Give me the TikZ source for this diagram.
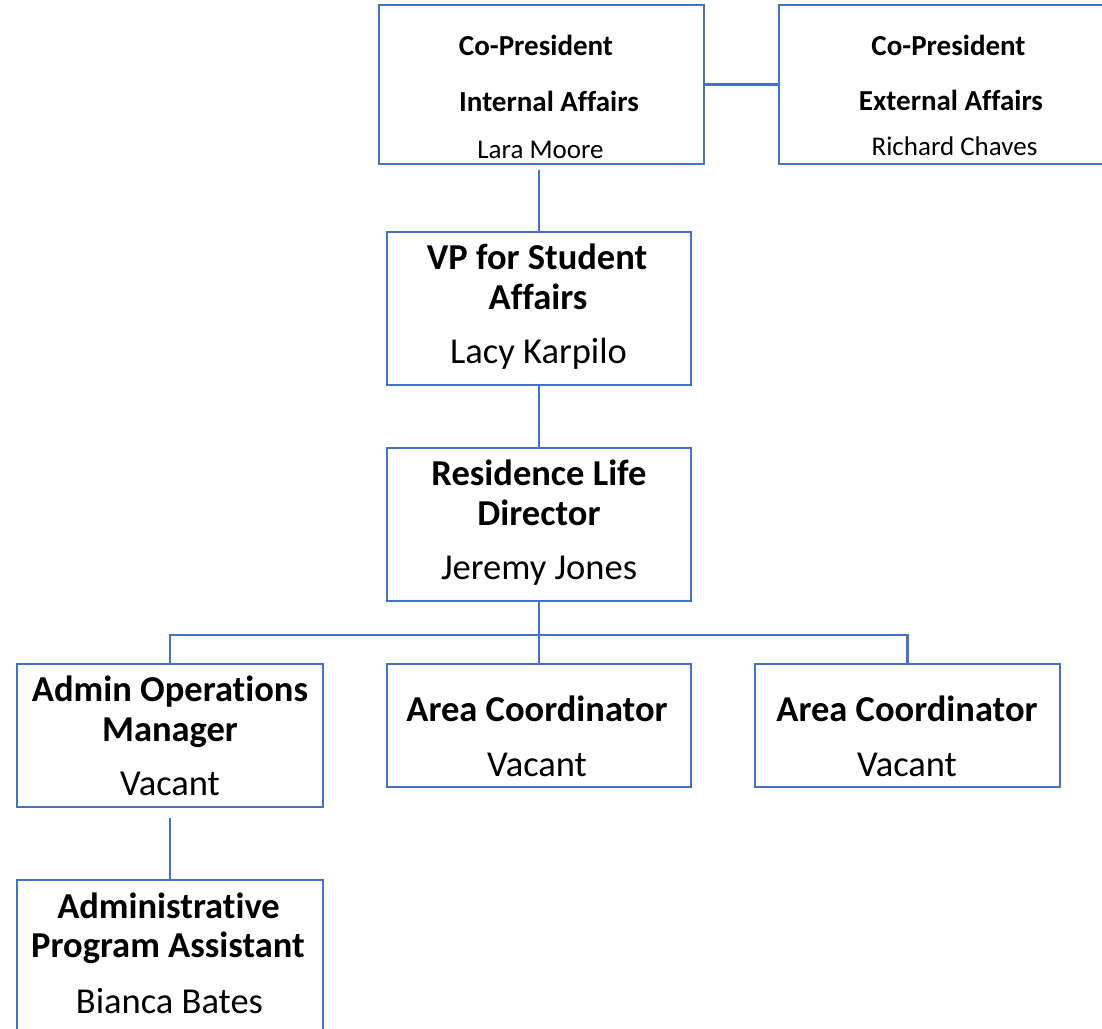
\documentclass[tikz,border=0pt]{standalone}
\usepackage{fontspec}
\setmainfont{Carlito}[Ligatures={NoCommon}]
\definecolor{boxblue}{HTML}{4472C4}
\begin{document}
\begin{tikzpicture}[x=1pt,y=-1pt,
  orgbox/.style={draw=boxblue,line width=2.8pt,rectangle,inner sep=0pt},
  conn/.style={draw=boxblue,line width=2.8pt},
  bigt/.style={anchor=base,inner sep=0pt,font=\fontsize{36.5}{40}\selectfont\bfseries},
  bign/.style={anchor=base,inner sep=0pt,font=\fontsize{36.5}{40}\selectfont},
  smt/.style={anchor=base,inner sep=0pt,font=\fontsize{29}{33}\selectfont\bfseries},
  smn/.style={anchor=base,inner sep=0pt,font=\fontsize{27}{32}\selectfont}]
\useasboundingbox (0,0) rectangle (1102,1028);
% boxes
\node[orgbox,minimum width=325pt,minimum height=159pt] (b1) at (541.5,84.5) {};
\node[orgbox,minimum width=325pt,minimum height=159pt] (b2) at (941.5,84.5) {};
\node[orgbox,minimum width=304pt,minimum height=153pt] (vp) at (539,308.5) {};
\node[orgbox,minimum width=304pt,minimum height=153pt] (rd) at (539,524.5) {};
\node[orgbox,minimum width=306pt,minimum height=143pt] (ad) at (170,735.5) {};
\node[orgbox,minimum width=304pt,minimum height=123pt] (a1) at (539,725.5) {};
\node[orgbox,minimum width=305pt,minimum height=123pt] (a2) at (907.5,725.5) {};
\node[orgbox,minimum width=306pt,minimum height=160pt] (as) at (170,960) {};
% texts
\node[smt] (t1a) at (536,55) {Co-President};
\node[smt] (t1b) at (549,111) {Internal Affairs};
\node[smn] (t1c) at (540.5,158) {Lara Moore};
\node[smt] (t2a) at (948.5,55) {Co-President};
\node[smt] (t2b) at (951,110) {External Affairs};
\node[smn] (t2c) at (954.5,155) {Richard Chaves};
\node[bigt] (t3a) at (537,269) {VP for Student};
\node[bigt] (t3b) at (538,309) {Affairs};
\node[bign] (t3c) at (538.5,363) {Lacy Karpilo};
\node[bigt] (t4a) at (539,485) {Residence Life};
\node[bigt] (t4b) at (539,525) {Director};
\node[bign] (t4c) at (539,579) {Jeremy Jones};
\node[bigt] (t5a) at (170,701) {Admin Operations};
\node[bigt] (t5b) at (170,741) {Manager};
\node[bign] (t5c) at (170,795) {Vacant};
\node[bigt] (t6a) at (537,721) {Area Coordinator};
\node[bign] (t6b) at (537,776) {Vacant};
\node[bigt] (t7a) at (907,721) {Area Coordinator};
\node[bign] (t7b) at (907,776) {Vacant};
\node[bigt] (t8a) at (168.5,918) {Administrative};
\node[bigt] (t8b) at (168,957) {Program Assistant};
\node[bign] (t8c) at (169.5,1013) {Bianca Bates};
% connectors
\coordinate (bus) at (539,635);
\draw[conn] (b1.east) -- (b2.west);
\draw[conn] (vp.north) -- ([yshift=-5pt]vp.north |- b1.south);
\draw[conn] (rd.north) -- (vp.south);
\draw[conn] (rd.south) -- (a1.north);
\draw[conn] (ad.north) -- (ad.north |- bus) -- (a2.north |- bus) -- (a2.north);
\draw[conn] ([yshift=-10pt]ad.south) -- (as.north);
\end{tikzpicture}
\end{document}
